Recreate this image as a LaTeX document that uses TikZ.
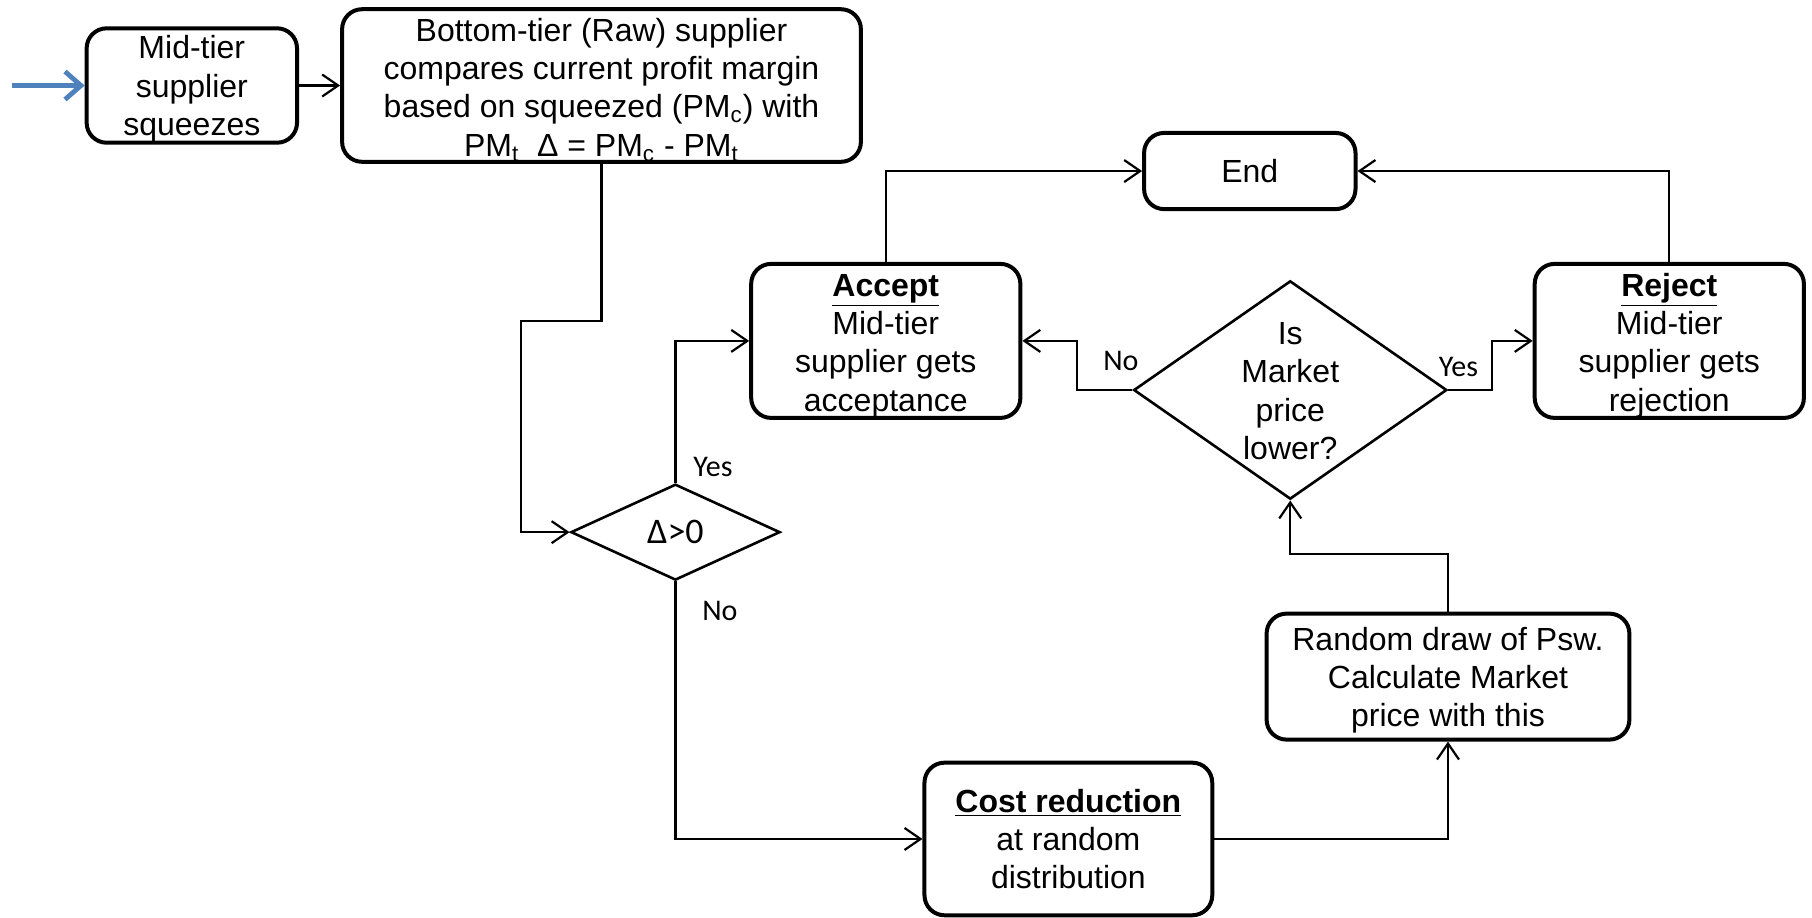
\documentclass[tikz,border=0pt]{standalone}
\usepackage{fontspec}
\setmainfont{Liberation Sans}
\newfontfamily\labfont{Carlito}
\usetikzlibrary{arrows.meta,shapes.geometric}
\definecolor{inblue}{RGB}{79,129,189}
\newcommand\topstrut[1]{\rule{0pt}{#1}}
\begin{document}
\begin{tikzpicture}[x=0.5778pt,y=-0.5778pt,
  box/.style={draw, line width=2pt, rounded corners=10pt, fill=white, align=center, inner sep=0pt, font=\fontsize{16}{19.2}\selectfont},
  dia/.style={draw, diamond, line width=1.3pt, inner sep=0pt, fill=white},
  diatext/.style={align=center, inner sep=0pt, font=\fontsize{16}{19.2}\selectfont},
  conn/.style={line width=1.1pt, -{Straight Barb[length=8pt,width=11pt,line width=1.1pt]}},
  lab/.style={inner sep=0pt, font=\labfont\fontsize{15}{18}\selectfont}]
\useasboundingbox (0,0) rectangle (1568,794);
% boxes
\node[box, minimum width=105.2pt, minimum height=57.2pt] (mt) at (166,74) {\topstrut{15.2pt}Mid-tier\\supplier\\squeezes};
\node[box, minimum width=259.4pt, minimum height=76.3pt] (bt) at (520.5,74) {\topstrut{15.8pt}Bottom-tier (Raw) supplier\\compares current profit margin\\based on squeezed (PM\textsubscript{c}) with\\PM\textsubscript{t}\ \ Δ = PM\textsubscript{c} - PM\textsubscript{t}};
\node[box, minimum width=134.6pt, minimum height=76.3pt] (acc) at (766.5,295) {\topstrut{16.1pt}\underline{\textbf{Accept}}\\Mid-tier\\supplier gets\\acceptance};
\node[box, minimum width=134.6pt, minimum height=76.3pt] (rej) at (1444.5,295) {\topstrut{16.1pt}\underline{\textbf{Reject}}\\Mid-tier\\supplier gets\\rejection};
\node[box, minimum width=105.7pt, minimum height=38.1pt] (end) at (1081.5,148) {End};
\node[box, minimum width=181.4pt, minimum height=63pt] (rnd) at (1253,585.5) {\topstrut{15.2pt}Random draw of Psw.\\Calculate Market\\price with this};
\node[box, minimum width=143.9pt, minimum height=76.3pt] (cost) at (924.5,726) {\underline{\textbf{Cost reduction}}\\at random\\distribution};
% diamonds
\node[dia, minimum width=104.6pt, minimum height=48pt] (d1) at (584.5,460.5) {};
\node[lab, font=\labfont\fontsize{18}{20}\selectfont] (d1t) at (d1.center) {Δ>0};
\node[dia, minimum width=156.6pt, minimum height=109.2pt] (d2) at (1116.5,337.5) {};
\node[diatext] (d2t) at ([yshift=-0.6pt]d2.center) {Is\\Market\\price\\lower?};
% labels
\node[lab] (yes1) at (617,404) {Yes};
\node[lab] (no1) at (623,529) {No};
\node[lab] (no2) at (970,312) {No};
\node[lab] (yes2) at (1262,318) {Yes};
% connectors
\coordinate (in) at (10,74);
\draw[line width=2.4pt, inblue, -{Straight Barb[length=8pt,width=14pt,line width=2.4pt]}] (in) -- (mt.west);
\draw[conn] (mt.east) -- (bt.west);
\coordinate (k1) at (451,278);
\draw[conn] (bt.south) |- (k1) |- (d1.west);
\draw[conn] (d1.north) |- (acc.west);
\draw[conn] (d1.south) |- (cost.west);
\draw[conn] (acc.north) |- (end.west);
\draw[conn] (rej.north) |- (end.east);
\draw[conn] (d2.west) -- ++(-48,0) |- (acc.east);
\draw[conn] (d2.east) -- ++(38,0) |- (rej.west);
\draw[conn] (rnd.north) -- ++(0,-50) -| (d2.south);
\draw[conn] (cost.east) -| (rnd.south);
\end{tikzpicture}
\end{document}
